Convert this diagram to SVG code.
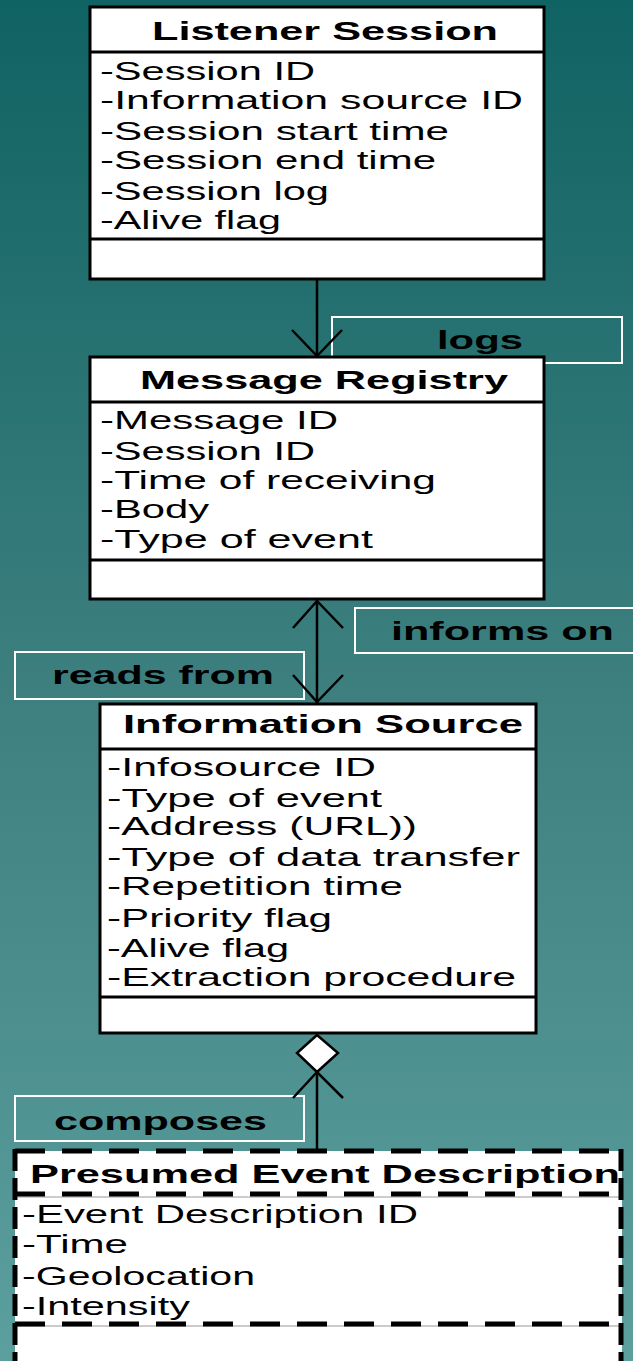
<svg xmlns="http://www.w3.org/2000/svg" width="633" height="1361" viewBox="0 0 633 1361">
<defs>
<linearGradient id="bg" x1="0" y1="0" x2="0" y2="1">
<stop offset="0" stop-color="#106363"/>
<stop offset="0.5" stop-color="#3d7f7f"/>
<stop offset="1" stop-color="#5c9f9f"/>
</linearGradient>
</defs>
<style>
.box{fill:#fff;stroke:#000;stroke-width:3}
.sep{stroke:#000;stroke-width:3}
.t{font-family:"Liberation Sans",Arial,sans-serif;font-size:26px;fill:#000}
.b{font-family:"Liberation Sans",Arial,sans-serif;font-size:25px;font-weight:bold;fill:#000}
.lbl{fill:none;stroke:#fff;stroke-width:2}
.ln{fill:none;stroke:#000;stroke-width:2.5}
.dh{stroke:#000;stroke-width:5;stroke-dasharray:30 17}
.dv{stroke:#000;stroke-width:5;stroke-dasharray:22 7}
.thin{stroke:#999;stroke-width:1.2}
</style>
<rect width="633" height="1361" fill="url(#bg)"/>

<g id="labels">
<g id="label-logs"><rect class="lbl" x="332" y="317" width="290" height="46"/><text class="b" x="437" y="349" textLength="86" lengthAdjust="spacingAndGlyphs">logs</text></g>
<g id="label-informs"><rect class="lbl" x="355" y="608" width="290" height="45"/><text class="b" x="391" y="640" textLength="223" lengthAdjust="spacingAndGlyphs">informs on</text></g>
<g id="label-reads"><rect class="lbl" x="15" y="652" width="289" height="47"/><text class="b" x="52" y="684" textLength="222" lengthAdjust="spacingAndGlyphs">reads from</text></g>
<g id="label-composes"><rect class="lbl" x="15" y="1096" width="289" height="45"/><text class="b" x="54" y="1130" textLength="213" lengthAdjust="spacingAndGlyphs">composes</text></g>
</g>

<g id="connectors">
<line class="ln" x1="317" y1="280" x2="317" y2="357"/>
<polyline class="ln" points="292,330 317,356 342,330"/>
<line class="ln" x1="317" y1="600" x2="317" y2="703"/>
<polyline class="ln" points="293,628 317,601 343,628"/>
<polyline class="ln" points="293,675 317,702 343,675"/>
<line class="ln" x1="317" y1="1072" x2="317" y2="1150"/>
<polygon points="317,1035 297,1053 317,1072 338,1053" fill="#fff" stroke="#000" stroke-width="2.5"/>
<polyline class="ln" points="293,1098 317,1072 343,1098"/>
</g>

<g id="listener-session">
<rect class="box" x="90" y="7" width="454" height="272"/>
<line class="sep" x1="90" y1="52" x2="544" y2="52"/>
<line class="sep" x1="90" y1="239" x2="544" y2="239"/>
<text class="b" x="152" y="40" textLength="346" lengthAdjust="spacingAndGlyphs">Listener Session</text>
<text class="t" x="100" y="80" textLength="215" lengthAdjust="spacingAndGlyphs">-Session ID</text>
<text class="t" x="100" y="109" textLength="423" lengthAdjust="spacingAndGlyphs">-Information source ID</text>
<text class="t" x="100" y="140" textLength="349" lengthAdjust="spacingAndGlyphs">-Session start time</text>
<text class="t" x="100" y="169" textLength="336" lengthAdjust="spacingAndGlyphs">-Session end time</text>
<text class="t" x="100" y="200" textLength="229" lengthAdjust="spacingAndGlyphs">-Session log</text>
<text class="t" x="100" y="229" textLength="181" lengthAdjust="spacingAndGlyphs">-Alive flag</text>
</g>

<g id="message-registry">
<rect class="box" x="90" y="357" width="454" height="242"/>
<line class="sep" x1="90" y1="402" x2="544" y2="402"/>
<line class="sep" x1="90" y1="560" x2="544" y2="560"/>
<text class="b" x="140" y="389" textLength="368" lengthAdjust="spacingAndGlyphs">Message Registry</text>
<text class="t" x="100" y="429" textLength="238" lengthAdjust="spacingAndGlyphs">-Message ID</text>
<text class="t" x="100" y="460" textLength="215" lengthAdjust="spacingAndGlyphs">-Session ID</text>
<text class="t" x="100" y="489" textLength="336" lengthAdjust="spacingAndGlyphs">-Time of receiving</text>
<text class="t" x="100" y="518" textLength="109" lengthAdjust="spacingAndGlyphs">-Body</text>
<text class="t" x="100" y="548" textLength="273" lengthAdjust="spacingAndGlyphs">-Type of event</text>
</g>

<g id="information-source">
<rect class="box" x="100" y="704" width="436" height="329"/>
<line class="sep" x1="100" y1="749" x2="536" y2="749"/>
<line class="sep" x1="100" y1="997" x2="536" y2="997"/>
<text class="b" x="123" y="733" textLength="400" lengthAdjust="spacingAndGlyphs">Information Source</text>
<text class="t" x="107" y="776" textLength="269" lengthAdjust="spacingAndGlyphs">-Infosource ID</text>
<text class="t" x="107" y="807" textLength="275" lengthAdjust="spacingAndGlyphs">-Type of event</text>
<text class="t" x="107" y="835" textLength="310" lengthAdjust="spacingAndGlyphs">-Address (URL))</text>
<text class="t" x="107" y="866" textLength="413" lengthAdjust="spacingAndGlyphs">-Type of data transfer</text>
<text class="t" x="107" y="895" textLength="296" lengthAdjust="spacingAndGlyphs">-Repetition time</text>
<text class="t" x="107" y="927" textLength="225" lengthAdjust="spacingAndGlyphs">-Priority flag</text>
<text class="t" x="107" y="957" textLength="182" lengthAdjust="spacingAndGlyphs">-Alive flag</text>
<text class="t" x="107" y="986" textLength="409" lengthAdjust="spacingAndGlyphs">-Extraction procedure</text>
</g>

<g id="presumed-event-description">
<rect x="15" y="1151" width="607" height="215" fill="#fff"/>
<line class="thin" x1="18" y1="1197" x2="620" y2="1197"/>
<line class="thin" x1="18" y1="1326" x2="620" y2="1326"/>
<text class="b" x="30" y="1183" textLength="590" lengthAdjust="spacingAndGlyphs">Presumed Event Description</text>
<text class="t" x="22" y="1223" textLength="396" lengthAdjust="spacingAndGlyphs">-Event Description ID</text>
<text class="t" x="22" y="1253" textLength="106" lengthAdjust="spacingAndGlyphs">-Time</text>
<text class="t" x="22" y="1285" textLength="233" lengthAdjust="spacingAndGlyphs">-Geolocation</text>
<text class="t" x="22" y="1315" textLength="168" lengthAdjust="spacingAndGlyphs">-Intensity</text>
<line class="dh" x1="15" y1="1151" x2="622" y2="1151"/>
<line class="dh" x1="15" y1="1194" x2="622" y2="1194"/>
<line class="dh" x1="15" y1="1324" x2="622" y2="1324"/>
<line class="dv" x1="15" y1="1149" x2="15" y2="1361"/>
<line class="dv" x1="621" y1="1149" x2="621" y2="1361"/>
</g>
</svg>
